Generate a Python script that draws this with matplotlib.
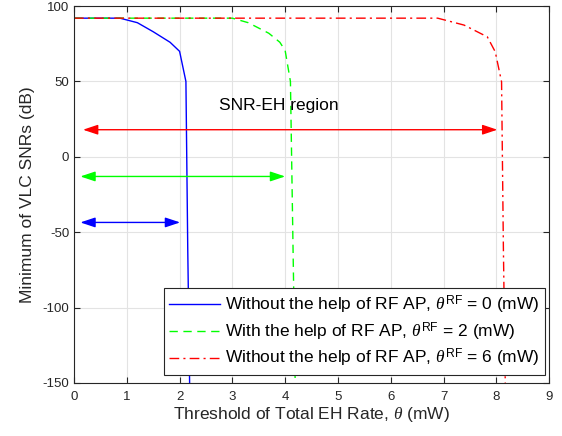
import matplotlib
matplotlib.use("Agg")
import matplotlib.pyplot as plt

plt.rcParams["font.family"] = ["Liberation Sans", "DejaVu Sans"]
plt.rcParams["mathtext.fontset"] = "custom"
plt.rcParams["mathtext.rm"] = "Liberation Sans"
plt.rcParams["mathtext.it"] = "Liberation Serif:italic"
plt.rcParams["axes.unicode_minus"] = False

# curves
blue_x = [0, 0.87, 1.2, 1.5, 1.82, 2.0, 2.12, 2.155, 2.19]
blue_y = [92, 92, 89, 83, 76, 70, 50, -62, -150]
green_x = [0, 3.0, 3.3, 3.69, 3.9, 4.0, 4.1, 4.15, 4.19]
green_y = [92, 92, 89, 82, 76, 70.5, 50, -62, -150]
red_x = [0, 6.89, 7.39, 7.83, 7.98, 8.10, 8.135, 8.17]
red_y = [92, 92, 87.4, 79.6, 69.7, 49.8, -62, -150]

labels = [
    r"Without the help of RF AP, $\theta^{\mathrm{RF}}$ = 0 (mW)",
    r"With the help of RF AP, $\theta^{\mathrm{RF}}$ = 2 (mW)",
    r"Without the help of RF AP, $\theta^{\mathrm{RF}}$ = 6 (mW)",
]

# double arrows marking the SNR-EH region
arrow_y = [18, -13, -43.5]
arrow_x0 = [0.17, 0.12, 0.12]
arrow_x1 = [8.02, 4.0, 2.01]
arrow_colors = ["r", "#00ff00", "b"]

fig = plt.figure(figsize=(5.62, 4.36), dpi=100)
ax = fig.add_axes([0.1317, 0.1216, 0.8453, 0.8644])

ax.plot(blue_x, blue_y, color="b", lw=1.0, label=labels[0])
ax.plot(green_x, green_y, color="#00ff00", lw=1.0, ls=(0, (6, 4)), label=labels[1])
ax.plot(red_x, red_y, color="r", lw=1.0, ls=(0, (7, 3, 1.5, 3)), label=labels[2])

for y, x0, x1, c in zip(arrow_y, arrow_x0, arrow_x1, arrow_colors):
    ax.annotate("", xy=(x1, y), xytext=(x0, y),
                arrowprops=dict(arrowstyle="<|-|>,head_length=0.9,head_width=0.3",
                                color=c, lw=1.0, shrinkA=0, shrinkB=0))

ax.text(2.75, 34, "SNR-EH region", fontsize=12.5, va="center", ha="left")

ax.set_xlim(0, 9)
ax.set_ylim(-150, 100)
ax.set_xticks(range(0, 10))
ax.set_yticks([-150, -100, -50, 0, 50, 100])
ax.grid(True, color="#e3e3e3", lw=0.8)
ax.set_axisbelow(True)
ax.tick_params(direction="in", length=4, top=True, right=True,
               labelsize=9.5, colors="#262626")
ax.tick_params(axis="x", pad=6)
for s in ax.spines.values():
    s.set_color("#262626")
    s.set_linewidth(0.8)

ax.set_xlabel(r"Threshold of Total EH Rate, $\theta$ (mW)", fontsize=12.5, color="#262626", labelpad=1)
ax.set_ylabel("Minimum of VLC SNRs (dB)", fontsize=12.5, color="#262626", labelpad=5)

leg = ax.legend(loc="lower right", bbox_to_anchor=(545 / 562, 1 - 375 / 436),
                bbox_transform=fig.transFigure, fontsize=12.5, fancybox=False,
                framealpha=1, edgecolor="#262626", borderaxespad=0,
                handlelength=2.9, handletextpad=0.3, labelspacing=0.26, borderpad=0.32)
leg.get_frame().set_linewidth(0.8)

fig.savefig("out.png", dpi=100)
